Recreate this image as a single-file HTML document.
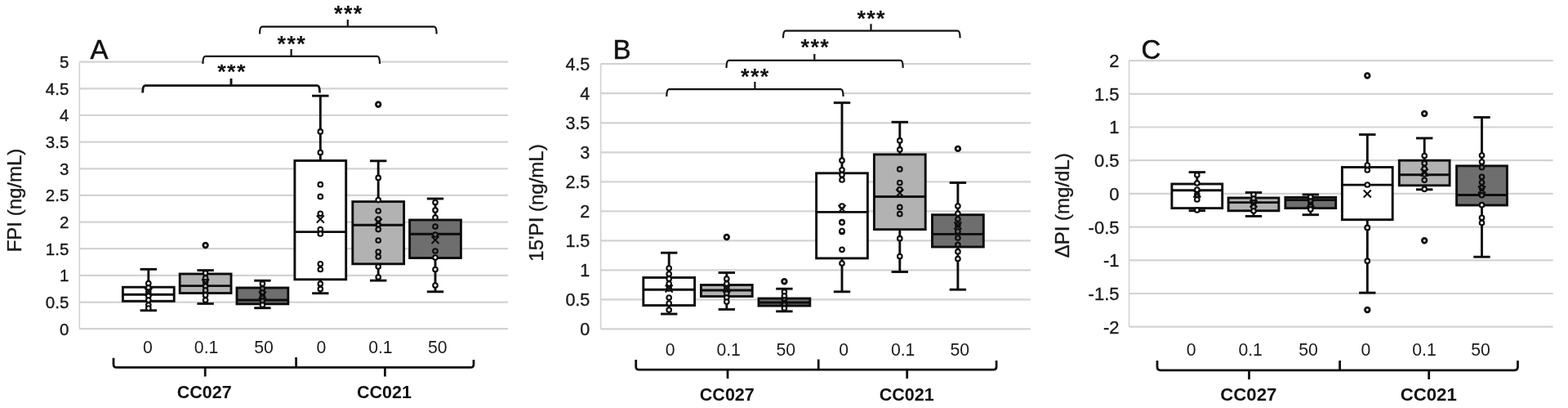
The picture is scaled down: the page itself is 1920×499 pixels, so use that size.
<!DOCTYPE html>
<html><head><meta charset="utf-8"><title>Figure</title>
<style>
html,body{margin:0;padding:0;background:#fff;}
body{width:1920px;height:499px;overflow:hidden;}
svg{display:block;font-family:"Liberation Sans",sans-serif;}
</style></head><body>
<svg width="1920" height="499" viewBox="0 0 1920 499">
<rect width="1920" height="499" fill="#fff"/>
<line x1="97.3" y1="75.7" x2="622" y2="75.7" stroke="#d3d3d3" stroke-width="2.2"/>
<line x1="97.3" y1="108.4" x2="622" y2="108.4" stroke="#d3d3d3" stroke-width="2.2"/>
<line x1="97.3" y1="141.0" x2="622" y2="141.0" stroke="#d3d3d3" stroke-width="2.2"/>
<line x1="97.3" y1="173.7" x2="622" y2="173.7" stroke="#d3d3d3" stroke-width="2.2"/>
<line x1="97.3" y1="206.3" x2="622" y2="206.3" stroke="#d3d3d3" stroke-width="2.2"/>
<line x1="97.3" y1="238.9" x2="622" y2="238.9" stroke="#d3d3d3" stroke-width="2.2"/>
<line x1="97.3" y1="271.6" x2="622" y2="271.6" stroke="#d3d3d3" stroke-width="2.2"/>
<line x1="97.3" y1="304.2" x2="622" y2="304.2" stroke="#d3d3d3" stroke-width="2.2"/>
<line x1="97.3" y1="336.9" x2="622" y2="336.9" stroke="#d3d3d3" stroke-width="2.2"/>
<line x1="97.3" y1="369.6" x2="622" y2="369.6" stroke="#d3d3d3" stroke-width="2.2"/>
<line x1="97.3" y1="402.2" x2="622" y2="402.2" stroke="#d3d3d3" stroke-width="2.2"/>
<line x1="97.3" y1="75.7" x2="97.3" y2="402.2" stroke="#d3d3d3" stroke-width="1.6"/>
<text x="84.3" y="83.0" text-anchor="end" font-size="20.5" fill="#1a1a1a" stroke="#1a1a1a" stroke-width="0.35">5</text>
<text x="84.3" y="115.7" text-anchor="end" font-size="20.5" fill="#1a1a1a" stroke="#1a1a1a" stroke-width="0.35">4.5</text>
<text x="84.3" y="148.3" text-anchor="end" font-size="20.5" fill="#1a1a1a" stroke="#1a1a1a" stroke-width="0.35">4</text>
<text x="84.3" y="181.0" text-anchor="end" font-size="20.5" fill="#1a1a1a" stroke="#1a1a1a" stroke-width="0.35">3.5</text>
<text x="84.3" y="213.6" text-anchor="end" font-size="20.5" fill="#1a1a1a" stroke="#1a1a1a" stroke-width="0.35">3</text>
<text x="84.3" y="246.3" text-anchor="end" font-size="20.5" fill="#1a1a1a" stroke="#1a1a1a" stroke-width="0.35">2.5</text>
<text x="84.3" y="278.9" text-anchor="end" font-size="20.5" fill="#1a1a1a" stroke="#1a1a1a" stroke-width="0.35">2</text>
<text x="84.3" y="311.6" text-anchor="end" font-size="20.5" fill="#1a1a1a" stroke="#1a1a1a" stroke-width="0.35">1.5</text>
<text x="84.3" y="344.2" text-anchor="end" font-size="20.5" fill="#1a1a1a" stroke="#1a1a1a" stroke-width="0.35">1</text>
<text x="84.3" y="376.9" text-anchor="end" font-size="20.5" fill="#1a1a1a" stroke="#1a1a1a" stroke-width="0.35">0.5</text>
<text x="84.3" y="409.5" text-anchor="end" font-size="20.5" fill="#1a1a1a" stroke="#1a1a1a" stroke-width="0.35">0</text>
<text transform="translate(26.2 245.0) rotate(-90)" text-anchor="middle" font-size="24" fill="#1a1a1a" stroke="#1a1a1a" stroke-width="0.4">FPI (ng/mL)</text>
<text x="110.5" y="71.5" font-size="33" fill="#111" stroke="#111" stroke-width="0.5">A</text>
<g stroke="#0d0d0d" stroke-width="2.9" fill="none">
<line x1="181.8" y1="329.3" x2="181.8" y2="351.2"/>
<line x1="181.8" y1="368.3" x2="181.8" y2="379.7"/>
<line x1="171.6" y1="329.3" x2="192.0" y2="329.3"/>
<line x1="171.6" y1="379.7" x2="192.0" y2="379.7"/>
<rect x="150.4" y="351.2" width="62.8" height="17.1" fill="#ffffff"/>
<line x1="150.4" y1="360.3" x2="213.2" y2="360.3"/>
</g>
<g stroke="#0d0d0d" stroke-width="2.1">
<circle cx="181.8" cy="346.5" r="2.8" fill="#f4f4f4"/>
<circle cx="181.8" cy="352.0" r="2.8" fill="#f4f4f4"/>
<circle cx="181.8" cy="357.0" r="2.8" fill="#ffffff"/>
<circle cx="181.8" cy="362.0" r="2.8" fill="#ffffff"/>
<circle cx="181.8" cy="367.0" r="2.8" fill="#ffffff"/>
<circle cx="181.8" cy="373.0" r="2.8" fill="#f4f4f4"/>
<circle cx="181.8" cy="377.0" r="2.8" fill="#f4f4f4"/>
</g>
<path d="M177.3 352.5L186.3 361.5M186.3 352.5L177.3 361.5" stroke="#0d0d0d" stroke-width="2" fill="none"/>
<g stroke="#0d0d0d" stroke-width="2.8" fill="#fff">
</g>
<g stroke="#0d0d0d" stroke-width="2.9" fill="none">
<line x1="251.6" y1="330.6" x2="251.6" y2="335.0"/>
<line x1="251.6" y1="358.5" x2="251.6" y2="371.4"/>
<line x1="241.4" y1="330.6" x2="261.8" y2="330.6"/>
<line x1="241.4" y1="371.4" x2="261.8" y2="371.4"/>
<rect x="220.2" y="335.0" width="62.8" height="23.5" fill="#b2b2b2"/>
<line x1="220.2" y1="349.6" x2="283.0" y2="349.6"/>
</g>
<g stroke="#0d0d0d" stroke-width="2.1">
<circle cx="251.6" cy="334.0" r="2.8" fill="#f4f4f4"/>
<circle cx="251.6" cy="340.0" r="2.8" fill="#b2b2b2"/>
<circle cx="251.6" cy="345.0" r="2.8" fill="#b2b2b2"/>
<circle cx="251.6" cy="350.0" r="2.8" fill="#b2b2b2"/>
<circle cx="251.6" cy="355.0" r="2.8" fill="#b2b2b2"/>
<circle cx="251.6" cy="361.0" r="2.8" fill="#f4f4f4"/>
<circle cx="251.6" cy="367.0" r="2.8" fill="#f4f4f4"/>
</g>
<path d="M247.1 341.5L256.1 350.5M256.1 341.5L247.1 350.5" stroke="#0d0d0d" stroke-width="2" fill="none"/>
<g stroke="#0d0d0d" stroke-width="2.8" fill="#fff">
<circle cx="251.6" cy="300.0" r="2.8"/>
</g>
<g stroke="#0d0d0d" stroke-width="2.9" fill="none">
<line x1="321.4" y1="343.2" x2="321.4" y2="352.0"/>
<line x1="321.4" y1="371.8" x2="321.4" y2="376.7"/>
<line x1="311.2" y1="343.2" x2="331.6" y2="343.2"/>
<line x1="311.2" y1="376.7" x2="331.6" y2="376.7"/>
<rect x="290.0" y="352.0" width="62.8" height="19.8" fill="#6e6e6e"/>
<line x1="290.0" y1="367.0" x2="352.8" y2="367.0"/>
</g>
<g stroke="#0d0d0d" stroke-width="2.1">
<circle cx="321.4" cy="347.0" r="2.8" fill="#f4f4f4"/>
<circle cx="321.4" cy="353.0" r="2.8" fill="#6e6e6e"/>
<circle cx="321.4" cy="358.0" r="2.8" fill="#6e6e6e"/>
<circle cx="321.4" cy="363.0" r="2.8" fill="#6e6e6e"/>
<circle cx="321.4" cy="368.0" r="2.8" fill="#6e6e6e"/>
<circle cx="321.4" cy="373.0" r="2.8" fill="#f4f4f4"/>
</g>
<path d="M316.9 356.5L325.9 365.5M325.9 356.5L316.9 365.5" stroke="#0d0d0d" stroke-width="2" fill="none"/>
<g stroke="#0d0d0d" stroke-width="2.8" fill="#fff">
</g>
<g stroke="#0d0d0d" stroke-width="2.9" fill="none">
<line x1="392.3" y1="117.2" x2="392.3" y2="196.5"/>
<line x1="392.3" y1="341.8" x2="392.3" y2="358.7"/>
<line x1="382.1" y1="117.2" x2="402.5" y2="117.2"/>
<line x1="382.1" y1="358.7" x2="402.5" y2="358.7"/>
<rect x="360.9" y="196.5" width="62.8" height="145.3" fill="#ffffff"/>
<line x1="360.9" y1="283.6" x2="423.7" y2="283.6"/>
</g>
<g stroke="#0d0d0d" stroke-width="2.1">
<circle cx="392.3" cy="160.9" r="2.8" fill="#f4f4f4"/>
<circle cx="392.3" cy="186.5" r="2.8" fill="#f4f4f4"/>
<circle cx="392.3" cy="225.7" r="2.8" fill="#ffffff"/>
<circle cx="392.3" cy="240.4" r="2.8" fill="#ffffff"/>
<circle cx="392.3" cy="261.3" r="2.8" fill="#ffffff"/>
<circle cx="392.3" cy="280.6" r="2.8" fill="#ffffff"/>
<circle cx="392.3" cy="286.0" r="2.8" fill="#ffffff"/>
<circle cx="392.3" cy="322.8" r="2.8" fill="#ffffff"/>
<circle cx="392.3" cy="329.5" r="2.8" fill="#ffffff"/>
<circle cx="392.3" cy="347.0" r="2.8" fill="#f4f4f4"/>
<circle cx="392.3" cy="353.4" r="2.8" fill="#f4f4f4"/>
</g>
<path d="M387.8 263.5L396.8 272.5M396.8 263.5L387.8 272.5" stroke="#0d0d0d" stroke-width="2" fill="none"/>
<g stroke="#0d0d0d" stroke-width="2.8" fill="#fff">
</g>
<g stroke="#0d0d0d" stroke-width="2.9" fill="none">
<line x1="463.2" y1="196.8" x2="463.2" y2="246.6"/>
<line x1="463.2" y1="322.8" x2="463.2" y2="343.1"/>
<line x1="453.0" y1="196.8" x2="473.4" y2="196.8"/>
<line x1="453.0" y1="343.1" x2="473.4" y2="343.1"/>
<rect x="431.8" y="246.6" width="62.8" height="76.2" fill="#b2b2b2"/>
<line x1="431.8" y1="275.2" x2="494.6" y2="275.2"/>
</g>
<g stroke="#0d0d0d" stroke-width="2.1">
<circle cx="463.2" cy="217.4" r="2.8" fill="#f4f4f4"/>
<circle cx="463.2" cy="244.6" r="2.8" fill="#f4f4f4"/>
<circle cx="463.2" cy="258.0" r="2.8" fill="#b2b2b2"/>
<circle cx="463.2" cy="268.0" r="2.8" fill="#b2b2b2"/>
<circle cx="463.2" cy="274.6" r="2.8" fill="#b2b2b2"/>
<circle cx="463.2" cy="280.6" r="2.8" fill="#b2b2b2"/>
<circle cx="463.2" cy="294.0" r="2.8" fill="#b2b2b2"/>
<circle cx="463.2" cy="308.0" r="2.8" fill="#b2b2b2"/>
<circle cx="463.2" cy="314.0" r="2.8" fill="#b2b2b2"/>
<circle cx="463.2" cy="326.0" r="2.8" fill="#f4f4f4"/>
<circle cx="463.2" cy="339.0" r="2.8" fill="#f4f4f4"/>
</g>
<path d="M458.7 267.5L467.7 276.5M467.7 267.5L458.7 276.5" stroke="#0d0d0d" stroke-width="2" fill="none"/>
<g stroke="#0d0d0d" stroke-width="2.8" fill="#fff">
<circle cx="463.2" cy="127.7" r="2.8"/>
</g>
<g stroke="#0d0d0d" stroke-width="2.9" fill="none">
<line x1="533.0" y1="243.0" x2="533.0" y2="269.0"/>
<line x1="533.0" y1="315.5" x2="533.0" y2="356.8"/>
<line x1="522.8" y1="243.0" x2="543.2" y2="243.0"/>
<line x1="522.8" y1="356.8" x2="543.2" y2="356.8"/>
<rect x="501.6" y="269.0" width="62.8" height="46.5" fill="#6e6e6e"/>
<line x1="501.6" y1="286.2" x2="564.4" y2="286.2"/>
</g>
<g stroke="#0d0d0d" stroke-width="2.1">
<circle cx="533.0" cy="247.5" r="2.8" fill="#f4f4f4"/>
<circle cx="533.0" cy="257.0" r="2.8" fill="#f4f4f4"/>
<circle cx="533.0" cy="266.0" r="2.8" fill="#f4f4f4"/>
<circle cx="533.0" cy="277.0" r="2.8" fill="#6e6e6e"/>
<circle cx="533.0" cy="287.0" r="2.8" fill="#6e6e6e"/>
<circle cx="533.0" cy="307.0" r="2.8" fill="#6e6e6e"/>
<circle cx="533.0" cy="315.0" r="2.8" fill="#f4f4f4"/>
<circle cx="533.0" cy="329.5" r="2.8" fill="#f4f4f4"/>
<circle cx="533.0" cy="349.0" r="2.8" fill="#f4f4f4"/>
</g>
<path d="M528.5 289.0L537.5 298.0M537.5 289.0L528.5 298.0" stroke="#0d0d0d" stroke-width="2" fill="none"/>
<g stroke="#0d0d0d" stroke-width="2.8" fill="#fff">
</g>
<rect x="174.7" y="104.6" width="216.8" height="10.0" fill="#fff"/>
<path d="M174.7 113.6Q174.7 104.6 177.7 104.6L388.5 104.6Q391.5 104.6 391.5 113.6M283.0 104.6L283.0 96.0" stroke="#111" stroke-width="2.9" fill="none"/>
<text x="284.0" y="97.0" text-anchor="middle" font-size="27" font-weight="bold" letter-spacing="1.3" fill="#111">***</text>
<rect x="248.4" y="68.9" width="216.6" height="10.0" fill="#fff"/>
<path d="M248.4 77.9Q248.4 68.9 251.4 68.9L462.0 68.9Q465.0 68.9 465.0 77.9M356.6 68.9L356.6 60.0" stroke="#111" stroke-width="2.2" fill="none"/>
<text x="357.3" y="62.5" text-anchor="middle" font-size="27" font-weight="bold" letter-spacing="1.3" fill="#111">***</text>
<rect x="318.0" y="32.6" width="216.6" height="10.0" fill="#fff"/>
<path d="M318.0 41.6Q318.0 32.6 321.0 32.6L531.6 32.6Q534.6 32.6 534.6 41.6M425.8 32.6L425.8 24.0" stroke="#111" stroke-width="2.2" fill="none"/>
<text x="426.8" y="26.3" text-anchor="middle" font-size="27" font-weight="bold" letter-spacing="1.3" fill="#111">***</text>
<text x="181.0" y="431.5" text-anchor="middle" font-size="21.2" fill="#1a1a1a">0</text>
<text x="252.6" y="431.5" text-anchor="middle" font-size="21.2" fill="#1a1a1a">0.1</text>
<text x="323.0" y="431.5" text-anchor="middle" font-size="21.2" fill="#1a1a1a">50</text>
<text x="393.4" y="431.5" text-anchor="middle" font-size="21.2" fill="#1a1a1a">0</text>
<text x="465.9" y="431.5" text-anchor="middle" font-size="21.2" fill="#1a1a1a">0.1</text>
<text x="535.8" y="431.5" text-anchor="middle" font-size="21.2" fill="#1a1a1a">50</text>
<path d="M139.0 437.8L139.0 445.4Q139.0 449.4 143.0 449.4L576.0 449.4Q580.0 449.4 580.0 445.4L580.0 440.0M362.6 449.4L362.6 437.0M251.2 449.4L251.2 460.5M471.4 449.4L471.4 460.5" stroke="#111" stroke-width="2.8" fill="none"/>
<text x="250.2" y="486.8" text-anchor="middle" font-size="21.5" font-weight="bold" fill="#111">CC027</text>
<text x="470.5" y="486.8" text-anchor="middle" font-size="21.5" font-weight="bold" fill="#111">CC021</text>
<line x1="735.6" y1="78.2" x2="1262" y2="78.2" stroke="#d3d3d3" stroke-width="2.2"/>
<line x1="735.6" y1="114.2" x2="1262" y2="114.2" stroke="#d3d3d3" stroke-width="2.2"/>
<line x1="735.6" y1="150.3" x2="1262" y2="150.3" stroke="#d3d3d3" stroke-width="2.2"/>
<line x1="735.6" y1="186.3" x2="1262" y2="186.3" stroke="#d3d3d3" stroke-width="2.2"/>
<line x1="735.6" y1="222.3" x2="1262" y2="222.3" stroke="#d3d3d3" stroke-width="2.2"/>
<line x1="735.6" y1="258.3" x2="1262" y2="258.3" stroke="#d3d3d3" stroke-width="2.2"/>
<line x1="735.6" y1="294.3" x2="1262" y2="294.3" stroke="#d3d3d3" stroke-width="2.2"/>
<line x1="735.6" y1="330.4" x2="1262" y2="330.4" stroke="#d3d3d3" stroke-width="2.2"/>
<line x1="735.6" y1="366.4" x2="1262" y2="366.4" stroke="#d3d3d3" stroke-width="2.2"/>
<line x1="735.6" y1="402.4" x2="1262" y2="402.4" stroke="#d3d3d3" stroke-width="2.2"/>
<line x1="735.6" y1="78.2" x2="735.6" y2="402.4" stroke="#d3d3d3" stroke-width="1.6"/>
<text x="722.3" y="85.9" text-anchor="end" font-size="21.5" fill="#1a1a1a" stroke="#1a1a1a" stroke-width="0.35">4.5</text>
<text x="722.3" y="121.9" text-anchor="end" font-size="21.5" fill="#1a1a1a" stroke="#1a1a1a" stroke-width="0.35">4</text>
<text x="722.3" y="158.0" text-anchor="end" font-size="21.5" fill="#1a1a1a" stroke="#1a1a1a" stroke-width="0.35">3.5</text>
<text x="722.3" y="194.0" text-anchor="end" font-size="21.5" fill="#1a1a1a" stroke="#1a1a1a" stroke-width="0.35">3</text>
<text x="722.3" y="230.0" text-anchor="end" font-size="21.5" fill="#1a1a1a" stroke="#1a1a1a" stroke-width="0.35">2.5</text>
<text x="722.3" y="266.0" text-anchor="end" font-size="21.5" fill="#1a1a1a" stroke="#1a1a1a" stroke-width="0.35">2</text>
<text x="722.3" y="302.0" text-anchor="end" font-size="21.5" fill="#1a1a1a" stroke="#1a1a1a" stroke-width="0.35">1.5</text>
<text x="722.3" y="338.1" text-anchor="end" font-size="21.5" fill="#1a1a1a" stroke="#1a1a1a" stroke-width="0.35">1</text>
<text x="722.3" y="374.1" text-anchor="end" font-size="21.5" fill="#1a1a1a" stroke="#1a1a1a" stroke-width="0.35">0.5</text>
<text x="722.3" y="410.1" text-anchor="end" font-size="21.5" fill="#1a1a1a" stroke="#1a1a1a" stroke-width="0.35">0</text>
<text transform="translate(665.0 248.0) rotate(-90)" text-anchor="middle" font-size="24" fill="#1a1a1a" stroke="#1a1a1a" stroke-width="0.4">15'PI (ng/mL)</text>
<text x="750.5" y="71.5" font-size="33" fill="#111" stroke="#111" stroke-width="0.5">B</text>
<g stroke="#0d0d0d" stroke-width="2.9" fill="none">
<line x1="819.2" y1="309.2" x2="819.2" y2="339.5"/>
<line x1="819.2" y1="373.5" x2="819.2" y2="384.0"/>
<line x1="809.0" y1="309.2" x2="829.4" y2="309.2"/>
<line x1="809.0" y1="384.0" x2="829.4" y2="384.0"/>
<rect x="787.8" y="339.5" width="62.8" height="34.0" fill="#ffffff"/>
<line x1="787.8" y1="354.2" x2="850.6" y2="354.2"/>
</g>
<g stroke="#0d0d0d" stroke-width="2.1">
<circle cx="819.2" cy="328.0" r="2.8" fill="#f4f4f4"/>
<circle cx="819.2" cy="335.0" r="2.8" fill="#f4f4f4"/>
<circle cx="819.2" cy="341.0" r="2.8" fill="#ffffff"/>
<circle cx="819.2" cy="347.0" r="2.8" fill="#ffffff"/>
<circle cx="819.2" cy="353.0" r="2.8" fill="#ffffff"/>
<circle cx="819.2" cy="364.0" r="2.8" fill="#ffffff"/>
<circle cx="819.2" cy="371.0" r="2.8" fill="#ffffff"/>
<circle cx="819.2" cy="379.0" r="2.8" fill="#f4f4f4"/>
</g>
<path d="M814.7 348.5L823.7 357.5M823.7 348.5L814.7 357.5" stroke="#0d0d0d" stroke-width="2" fill="none"/>
<g stroke="#0d0d0d" stroke-width="2.8" fill="#fff">
</g>
<g stroke="#0d0d0d" stroke-width="2.9" fill="none">
<line x1="889.8" y1="333.5" x2="889.8" y2="348.5"/>
<line x1="889.8" y1="362.5" x2="889.8" y2="378.4"/>
<line x1="879.6" y1="333.5" x2="900.0" y2="333.5"/>
<line x1="879.6" y1="378.4" x2="900.0" y2="378.4"/>
<rect x="858.4" y="348.5" width="62.8" height="14.0" fill="#b2b2b2"/>
<line x1="858.4" y1="355.0" x2="921.2" y2="355.0"/>
</g>
<g stroke="#0d0d0d" stroke-width="2.1">
<circle cx="889.8" cy="341.0" r="2.8" fill="#f4f4f4"/>
<circle cx="889.8" cy="347.0" r="2.8" fill="#f4f4f4"/>
<circle cx="889.8" cy="353.0" r="2.8" fill="#b2b2b2"/>
<circle cx="889.8" cy="359.0" r="2.8" fill="#b2b2b2"/>
<circle cx="889.8" cy="364.0" r="2.8" fill="#f4f4f4"/>
<circle cx="889.8" cy="369.0" r="2.8" fill="#f4f4f4"/>
</g>
<path d="M885.3 348.5L894.3 357.5M894.3 348.5L885.3 357.5" stroke="#0d0d0d" stroke-width="2" fill="none"/>
<g stroke="#0d0d0d" stroke-width="2.8" fill="#fff">
<circle cx="889.8" cy="290.0" r="2.8"/>
</g>
<g stroke="#0d0d0d" stroke-width="2.9" fill="none">
<line x1="960.4" y1="353.2" x2="960.4" y2="365.0"/>
<line x1="960.4" y1="374.0" x2="960.4" y2="380.8"/>
<line x1="950.2" y1="353.2" x2="970.6" y2="353.2"/>
<line x1="950.2" y1="380.8" x2="970.6" y2="380.8"/>
<rect x="929.0" y="365.0" width="62.8" height="9.0" fill="#6e6e6e"/>
<line x1="929.0" y1="370.0" x2="991.8" y2="370.0"/>
</g>
<g stroke="#0d0d0d" stroke-width="2.1">
<circle cx="960.4" cy="357.0" r="2.8" fill="#f4f4f4"/>
<circle cx="960.4" cy="362.0" r="2.8" fill="#f4f4f4"/>
<circle cx="960.4" cy="367.0" r="2.8" fill="#6e6e6e"/>
<circle cx="960.4" cy="372.0" r="2.8" fill="#6e6e6e"/>
<circle cx="960.4" cy="377.0" r="2.8" fill="#f4f4f4"/>
</g>
<path d="M955.9 364.5L964.9 373.5M964.9 364.5L955.9 373.5" stroke="#0d0d0d" stroke-width="2" fill="none"/>
<g stroke="#0d0d0d" stroke-width="2.8" fill="#fff">
<circle cx="960.4" cy="344.2" r="2.8"/>
</g>
<g stroke="#0d0d0d" stroke-width="2.9" fill="none">
<line x1="1031.0" y1="125.7" x2="1031.0" y2="211.8"/>
<line x1="1031.0" y1="315.9" x2="1031.0" y2="356.8"/>
<line x1="1020.8" y1="125.7" x2="1041.2" y2="125.7"/>
<line x1="1020.8" y1="356.8" x2="1041.2" y2="356.8"/>
<rect x="999.6" y="211.8" width="62.8" height="104.1" fill="#ffffff"/>
<line x1="999.6" y1="259.4" x2="1062.4" y2="259.4"/>
</g>
<g stroke="#0d0d0d" stroke-width="2.1">
<circle cx="1031.0" cy="196.2" r="2.8" fill="#f4f4f4"/>
<circle cx="1031.0" cy="207.8" r="2.8" fill="#f4f4f4"/>
<circle cx="1031.0" cy="213.8" r="2.8" fill="#ffffff"/>
<circle cx="1031.0" cy="220.0" r="2.8" fill="#ffffff"/>
<circle cx="1031.0" cy="252.0" r="2.8" fill="#ffffff"/>
<circle cx="1031.0" cy="271.7" r="2.8" fill="#ffffff"/>
<circle cx="1031.0" cy="283.4" r="2.8" fill="#ffffff"/>
<circle cx="1031.0" cy="272.0" r="2.8" fill="#ffffff"/>
<circle cx="1031.0" cy="282.6" r="2.8" fill="#ffffff"/>
<circle cx="1031.0" cy="305.3" r="2.8" fill="#ffffff"/>
<circle cx="1031.0" cy="322.0" r="2.8" fill="#f4f4f4"/>
</g>
<path d="M1026.5 250.9L1035.5 259.9M1035.5 250.9L1026.5 259.9" stroke="#0d0d0d" stroke-width="2" fill="none"/>
<g stroke="#0d0d0d" stroke-width="2.8" fill="#fff">
</g>
<g stroke="#0d0d0d" stroke-width="2.9" fill="none">
<line x1="1101.8" y1="149.3" x2="1101.8" y2="188.9"/>
<line x1="1101.8" y1="280.6" x2="1101.8" y2="332.5"/>
<line x1="1091.6" y1="149.3" x2="1112.0" y2="149.3"/>
<line x1="1091.6" y1="332.5" x2="1112.0" y2="332.5"/>
<rect x="1070.4" y="188.9" width="62.8" height="91.7" fill="#b2b2b2"/>
<line x1="1070.4" y1="240.5" x2="1133.2" y2="240.5"/>
</g>
<g stroke="#0d0d0d" stroke-width="2.1">
<circle cx="1101.8" cy="171.9" r="2.8" fill="#f4f4f4"/>
<circle cx="1101.8" cy="182.9" r="2.8" fill="#f4f4f4"/>
<circle cx="1101.8" cy="206.9" r="2.8" fill="#b2b2b2"/>
<circle cx="1101.8" cy="223.5" r="2.8" fill="#b2b2b2"/>
<circle cx="1101.8" cy="231.8" r="2.8" fill="#b2b2b2"/>
<circle cx="1101.8" cy="253.4" r="2.8" fill="#b2b2b2"/>
<circle cx="1101.8" cy="261.7" r="2.8" fill="#b2b2b2"/>
<circle cx="1101.8" cy="291.7" r="2.8" fill="#f4f4f4"/>
<circle cx="1101.8" cy="313.6" r="2.8" fill="#f4f4f4"/>
</g>
<path d="M1097.3 231.5L1106.3 240.5M1106.3 231.5L1097.3 240.5" stroke="#0d0d0d" stroke-width="2" fill="none"/>
<g stroke="#0d0d0d" stroke-width="2.8" fill="#fff">
</g>
<g stroke="#0d0d0d" stroke-width="2.9" fill="none">
<line x1="1172.9" y1="223.5" x2="1172.9" y2="262.7"/>
<line x1="1172.9" y1="302.0" x2="1172.9" y2="354.2"/>
<line x1="1162.7" y1="223.5" x2="1183.1" y2="223.5"/>
<line x1="1162.7" y1="354.2" x2="1183.1" y2="354.2"/>
<rect x="1141.5" y="262.7" width="62.8" height="39.3" fill="#6e6e6e"/>
<line x1="1141.5" y1="286.4" x2="1204.3" y2="286.4"/>
</g>
<g stroke="#0d0d0d" stroke-width="2.1">
<circle cx="1172.9" cy="252.0" r="2.8" fill="#f4f4f4"/>
<circle cx="1172.9" cy="261.3" r="2.8" fill="#f4f4f4"/>
<circle cx="1172.9" cy="268.0" r="2.8" fill="#6e6e6e"/>
<circle cx="1172.9" cy="275.0" r="2.8" fill="#6e6e6e"/>
<circle cx="1172.9" cy="283.0" r="2.8" fill="#6e6e6e"/>
<circle cx="1172.9" cy="291.0" r="2.8" fill="#6e6e6e"/>
<circle cx="1172.9" cy="299.3" r="2.8" fill="#6e6e6e"/>
<circle cx="1172.9" cy="307.7" r="2.8" fill="#f4f4f4"/>
<circle cx="1172.9" cy="316.6" r="2.8" fill="#f4f4f4"/>
</g>
<path d="M1168.4 271.5L1177.4 280.5M1177.4 271.5L1168.4 280.5" stroke="#0d0d0d" stroke-width="2" fill="none"/>
<g stroke="#0d0d0d" stroke-width="2.8" fill="#fff">
<circle cx="1172.9" cy="181.9" r="2.8"/>
</g>
<rect x="816.3" y="109.1" width="216.2" height="10.0" fill="#fff"/>
<path d="M816.3 118.1Q816.3 109.1 819.3 109.1L1029.5 109.1Q1032.5 109.1 1032.5 118.1M924.4 109.1L924.4 100.0" stroke="#111" stroke-width="2.2" fill="none"/>
<text x="924.8" y="103.0" text-anchor="middle" font-size="27" font-weight="bold" letter-spacing="1.3" fill="#111">***</text>
<rect x="889.5" y="73.9" width="216.2" height="10.0" fill="#fff"/>
<path d="M889.5 82.9Q889.5 73.9 892.5 73.9L1102.7 73.9Q1105.7 73.9 1105.7 82.9M997.3 73.9L997.3 66.0" stroke="#111" stroke-width="2.2" fill="none"/>
<text x="998.3" y="67.2" text-anchor="middle" font-size="27" font-weight="bold" letter-spacing="1.3" fill="#111">***</text>
<rect x="959.0" y="37.6" width="216.6" height="10.0" fill="#fff"/>
<path d="M959.0 46.6Q959.0 37.6 962.0 37.6L1172.6 37.6Q1175.6 37.6 1175.6 46.6M1066.5 37.6L1066.5 29.3" stroke="#111" stroke-width="2.2" fill="none"/>
<text x="1067.1" y="31.5" text-anchor="middle" font-size="27" font-weight="bold" letter-spacing="1.3" fill="#111">***</text>
<text x="820.6" y="435.3" text-anchor="middle" font-size="21.2" fill="#1a1a1a">0</text>
<text x="892.2" y="435.3" text-anchor="middle" font-size="21.2" fill="#1a1a1a">0.1</text>
<text x="962.3" y="435.3" text-anchor="middle" font-size="21.2" fill="#1a1a1a">50</text>
<text x="1033.2" y="435.3" text-anchor="middle" font-size="21.2" fill="#1a1a1a">0</text>
<text x="1105.7" y="435.3" text-anchor="middle" font-size="21.2" fill="#1a1a1a">0.1</text>
<text x="1175.2" y="435.3" text-anchor="middle" font-size="21.2" fill="#1a1a1a">50</text>
<path d="M778.7 440.0L778.7 448.2Q778.7 452.2 782.7 452.2L1216.1 452.2Q1220.1 452.2 1220.1 448.2L1220.1 441.0M1002.2 452.2L1002.2 439.5M891.0 452.2L891.0 463.0M1110.7 452.2L1110.7 463.0" stroke="#111" stroke-width="2.8" fill="none"/>
<text x="890.3" y="490.0" text-anchor="middle" font-size="21.5" font-weight="bold" fill="#111">CC027</text>
<text x="1110.2" y="490.0" text-anchor="middle" font-size="21.5" font-weight="bold" fill="#111">CC021</text>
<line x1="1382.6" y1="74.1" x2="1901.7" y2="74.1" stroke="#d3d3d3" stroke-width="2.2"/>
<line x1="1382.6" y1="114.8" x2="1901.7" y2="114.8" stroke="#d3d3d3" stroke-width="2.2"/>
<line x1="1382.6" y1="155.5" x2="1901.7" y2="155.5" stroke="#d3d3d3" stroke-width="2.2"/>
<line x1="1382.6" y1="196.2" x2="1901.7" y2="196.2" stroke="#d3d3d3" stroke-width="2.2"/>
<line x1="1382.6" y1="236.9" x2="1901.7" y2="236.9" stroke="#d3d3d3" stroke-width="2.2"/>
<line x1="1382.6" y1="277.6" x2="1901.7" y2="277.6" stroke="#d3d3d3" stroke-width="2.2"/>
<line x1="1382.6" y1="318.3" x2="1901.7" y2="318.3" stroke="#d3d3d3" stroke-width="2.2"/>
<line x1="1382.6" y1="359.0" x2="1901.7" y2="359.0" stroke="#d3d3d3" stroke-width="2.2"/>
<line x1="1382.6" y1="399.7" x2="1901.7" y2="399.7" stroke="#d3d3d3" stroke-width="2.2"/>
<line x1="1382.6" y1="74.1" x2="1382.6" y2="399.7" stroke="#d3d3d3" stroke-width="1.6"/>
<text x="1370.5" y="82.0" text-anchor="end" font-size="22" fill="#1a1a1a" stroke="#1a1a1a" stroke-width="0.35">2</text>
<text x="1370.5" y="122.7" text-anchor="end" font-size="22" fill="#1a1a1a" stroke="#1a1a1a" stroke-width="0.35">1.5</text>
<text x="1370.5" y="163.4" text-anchor="end" font-size="22" fill="#1a1a1a" stroke="#1a1a1a" stroke-width="0.35">1</text>
<text x="1370.5" y="204.1" text-anchor="end" font-size="22" fill="#1a1a1a" stroke="#1a1a1a" stroke-width="0.35">0.5</text>
<text x="1370.5" y="244.8" text-anchor="end" font-size="22" fill="#1a1a1a" stroke="#1a1a1a" stroke-width="0.35">0</text>
<text x="1370.5" y="285.5" text-anchor="end" font-size="22" fill="#1a1a1a" stroke="#1a1a1a" stroke-width="0.35">-0.5</text>
<text x="1370.5" y="326.2" text-anchor="end" font-size="22" fill="#1a1a1a" stroke="#1a1a1a" stroke-width="0.35">-1</text>
<text x="1370.5" y="366.9" text-anchor="end" font-size="22" fill="#1a1a1a" stroke="#1a1a1a" stroke-width="0.35">-1.5</text>
<text x="1370.5" y="407.6" text-anchor="end" font-size="22" fill="#1a1a1a" stroke="#1a1a1a" stroke-width="0.35">-2</text>
<text transform="translate(1309.0 251.3) rotate(-90)" text-anchor="middle" font-size="24" fill="#1a1a1a" stroke="#1a1a1a" stroke-width="0.4">ΔPI (mg/dL)</text>
<text x="1397.5" y="71.5" font-size="33" fill="#111" stroke="#111" stroke-width="0.5">C</text>
<g stroke="#0d0d0d" stroke-width="2.9" fill="none">
<line x1="1465.8" y1="210.6" x2="1465.8" y2="225.0"/>
<line x1="1465.8" y1="254.6" x2="1465.8" y2="257.7"/>
<line x1="1455.6" y1="210.6" x2="1476.0" y2="210.6"/>
<line x1="1455.6" y1="257.7" x2="1476.0" y2="257.7"/>
<rect x="1434.9" y="225.0" width="61.8" height="29.6" fill="#ffffff"/>
<line x1="1434.9" y1="232.8" x2="1496.7" y2="232.8"/>
</g>
<g stroke="#0d0d0d" stroke-width="2.1">
<circle cx="1465.8" cy="214.0" r="2.8" fill="#f4f4f4"/>
<circle cx="1465.8" cy="224.0" r="2.8" fill="#f4f4f4"/>
<circle cx="1465.8" cy="232.0" r="2.8" fill="#ffffff"/>
<circle cx="1465.8" cy="238.0" r="2.8" fill="#ffffff"/>
<circle cx="1465.8" cy="244.0" r="2.8" fill="#ffffff"/>
<circle cx="1465.8" cy="257.0" r="2.8" fill="#f4f4f4"/>
</g>
<path d="M1461.3 232.5L1470.3 241.5M1470.3 232.5L1461.3 241.5" stroke="#0d0d0d" stroke-width="2" fill="none"/>
<g stroke="#0d0d0d" stroke-width="2.8" fill="#fff">
</g>
<g stroke="#0d0d0d" stroke-width="2.9" fill="none">
<line x1="1535.0" y1="235.5" x2="1535.0" y2="242.0"/>
<line x1="1535.0" y1="257.8" x2="1535.0" y2="264.4"/>
<line x1="1524.8" y1="235.5" x2="1545.2" y2="235.5"/>
<line x1="1524.8" y1="264.4" x2="1545.2" y2="264.4"/>
<rect x="1504.1" y="242.0" width="61.8" height="15.8" fill="#b2b2b2"/>
<line x1="1504.1" y1="247.6" x2="1565.9" y2="247.6"/>
</g>
<g stroke="#0d0d0d" stroke-width="2.1">
<circle cx="1535.0" cy="238.0" r="2.8" fill="#f4f4f4"/>
<circle cx="1535.0" cy="243.0" r="2.8" fill="#b2b2b2"/>
<circle cx="1535.0" cy="248.0" r="2.8" fill="#b2b2b2"/>
<circle cx="1535.0" cy="253.0" r="2.8" fill="#b2b2b2"/>
<circle cx="1535.0" cy="258.0" r="2.8" fill="#f4f4f4"/>
</g>
<path d="M1530.5 244.5L1539.5 253.5M1539.5 244.5L1530.5 253.5" stroke="#0d0d0d" stroke-width="2" fill="none"/>
<g stroke="#0d0d0d" stroke-width="2.8" fill="#fff">
</g>
<g stroke="#0d0d0d" stroke-width="2.9" fill="none">
<line x1="1604.8" y1="238.0" x2="1604.8" y2="241.4"/>
<line x1="1604.8" y1="254.6" x2="1604.8" y2="262.7"/>
<line x1="1594.6" y1="238.0" x2="1615.0" y2="238.0"/>
<line x1="1594.6" y1="262.7" x2="1615.0" y2="262.7"/>
<rect x="1573.9" y="241.4" width="61.8" height="13.2" fill="#6e6e6e"/>
<line x1="1573.9" y1="244.6" x2="1635.7" y2="244.6"/>
</g>
<g stroke="#0d0d0d" stroke-width="2.1">
<circle cx="1604.8" cy="241.0" r="2.8" fill="#f4f4f4"/>
<circle cx="1604.8" cy="246.0" r="2.8" fill="#6e6e6e"/>
<circle cx="1604.8" cy="251.0" r="2.8" fill="#6e6e6e"/>
<circle cx="1604.8" cy="256.0" r="2.8" fill="#f4f4f4"/>
</g>
<path d="M1600.3 244.5L1609.3 253.5M1609.3 244.5L1600.3 253.5" stroke="#0d0d0d" stroke-width="2" fill="none"/>
<g stroke="#0d0d0d" stroke-width="2.8" fill="#fff">
</g>
<g stroke="#0d0d0d" stroke-width="2.9" fill="none">
<line x1="1674.3" y1="164.6" x2="1674.3" y2="204.5"/>
<line x1="1674.3" y1="268.7" x2="1674.3" y2="358.1"/>
<line x1="1664.1" y1="164.6" x2="1684.5" y2="164.6"/>
<line x1="1664.1" y1="358.1" x2="1684.5" y2="358.1"/>
<rect x="1643.4" y="204.5" width="61.8" height="64.2" fill="#ffffff"/>
<line x1="1643.4" y1="226.1" x2="1705.2" y2="226.1"/>
</g>
<g stroke="#0d0d0d" stroke-width="2.1">
<circle cx="1674.3" cy="202.0" r="2.8" fill="#f4f4f4"/>
<circle cx="1674.3" cy="208.0" r="2.8" fill="#ffffff"/>
<circle cx="1674.3" cy="226.0" r="2.8" fill="#ffffff"/>
<circle cx="1674.3" cy="278.4" r="2.8" fill="#f4f4f4"/>
<circle cx="1674.3" cy="278.6" r="2.8" fill="#f4f4f4"/>
<circle cx="1674.3" cy="319.2" r="2.8" fill="#f4f4f4"/>
</g>
<path d="M1669.8 232.5L1678.8 241.5M1678.8 232.5L1669.8 241.5" stroke="#0d0d0d" stroke-width="2" fill="none"/>
<g stroke="#0d0d0d" stroke-width="2.8" fill="#fff">
<circle cx="1674.3" cy="92.5" r="2.8"/>
<circle cx="1674.3" cy="379.0" r="2.8"/>
</g>
<g stroke="#0d0d0d" stroke-width="2.9" fill="none">
<line x1="1744.2" y1="169.0" x2="1744.2" y2="196.2"/>
<line x1="1744.2" y1="226.8" x2="1744.2" y2="231.8"/>
<line x1="1734.0" y1="169.0" x2="1754.4" y2="169.0"/>
<line x1="1734.0" y1="231.8" x2="1754.4" y2="231.8"/>
<rect x="1713.3" y="196.2" width="61.8" height="30.6" fill="#b2b2b2"/>
<line x1="1713.3" y1="213.8" x2="1775.1" y2="213.8"/>
</g>
<g stroke="#0d0d0d" stroke-width="2.1">
<circle cx="1744.2" cy="190.6" r="2.8" fill="#f4f4f4"/>
<circle cx="1744.2" cy="199.7" r="2.8" fill="#b2b2b2"/>
<circle cx="1744.2" cy="206.3" r="2.8" fill="#b2b2b2"/>
<circle cx="1744.2" cy="213.0" r="2.8" fill="#b2b2b2"/>
<circle cx="1744.2" cy="220.3" r="2.8" fill="#b2b2b2"/>
<circle cx="1744.2" cy="231.3" r="2.8" fill="#f4f4f4"/>
</g>
<path d="M1739.7 206.5L1748.7 215.5M1748.7 206.5L1739.7 215.5" stroke="#0d0d0d" stroke-width="2" fill="none"/>
<g stroke="#0d0d0d" stroke-width="2.8" fill="#fff">
<circle cx="1744.2" cy="139.0" r="2.8"/>
<circle cx="1744.2" cy="294.3" r="2.8"/>
</g>
<g stroke="#0d0d0d" stroke-width="2.9" fill="none">
<line x1="1814.5" y1="143.5" x2="1814.5" y2="202.9"/>
<line x1="1814.5" y1="251.0" x2="1814.5" y2="314.2"/>
<line x1="1804.3" y1="143.5" x2="1824.7" y2="143.5"/>
<line x1="1804.3" y1="314.2" x2="1824.7" y2="314.2"/>
<rect x="1783.6" y="202.9" width="61.8" height="48.1" fill="#6e6e6e"/>
<line x1="1783.6" y1="238.5" x2="1845.4" y2="238.5"/>
</g>
<g stroke="#0d0d0d" stroke-width="2.1">
<circle cx="1814.5" cy="190.0" r="2.8" fill="#f4f4f4"/>
<circle cx="1814.5" cy="198.0" r="2.8" fill="#f4f4f4"/>
<circle cx="1814.5" cy="204.7" r="2.8" fill="#6e6e6e"/>
<circle cx="1814.5" cy="216.3" r="2.8" fill="#6e6e6e"/>
<circle cx="1814.5" cy="223.0" r="2.8" fill="#6e6e6e"/>
<circle cx="1814.5" cy="229.7" r="2.8" fill="#6e6e6e"/>
<circle cx="1814.5" cy="238.7" r="2.8" fill="#6e6e6e"/>
<circle cx="1814.5" cy="250.7" r="2.8" fill="#f4f4f4"/>
<circle cx="1814.5" cy="266.3" r="2.8" fill="#f4f4f4"/>
<circle cx="1814.5" cy="272.5" r="2.8" fill="#f4f4f4"/>
</g>
<path d="M1810.0 227.5L1819.0 236.5M1819.0 227.5L1810.0 236.5" stroke="#0d0d0d" stroke-width="2" fill="none"/>
<g stroke="#0d0d0d" stroke-width="2.8" fill="#fff">
</g>
<text x="1458.6" y="435.3" text-anchor="middle" font-size="21.2" fill="#1a1a1a">0</text>
<text x="1531.2" y="435.3" text-anchor="middle" font-size="21.2" fill="#1a1a1a">0.1</text>
<text x="1602.0" y="435.3" text-anchor="middle" font-size="21.2" fill="#1a1a1a">50</text>
<text x="1672.5" y="435.3" text-anchor="middle" font-size="21.2" fill="#1a1a1a">0</text>
<text x="1744.0" y="435.3" text-anchor="middle" font-size="21.2" fill="#1a1a1a">0.1</text>
<text x="1813.0" y="435.3" text-anchor="middle" font-size="21.2" fill="#1a1a1a">50</text>
<path d="M1417.0 441.0L1417.0 448.8Q1417.0 452.8 1421.0 452.8L1854.5 452.8Q1858.5 452.8 1858.5 448.8L1858.5 441.0M1640.6 452.8L1640.6 441.0M1529.5 452.8L1529.5 464.0M1749.7 452.8L1749.7 464.0" stroke="#111" stroke-width="2.8" fill="none"/>
<text x="1528.8" y="490.3" text-anchor="middle" font-size="22.2" font-weight="bold" fill="#111">CC027</text>
<text x="1749.2" y="490.3" text-anchor="middle" font-size="22.2" font-weight="bold" fill="#111">CC021</text>
</svg>
</body></html>
